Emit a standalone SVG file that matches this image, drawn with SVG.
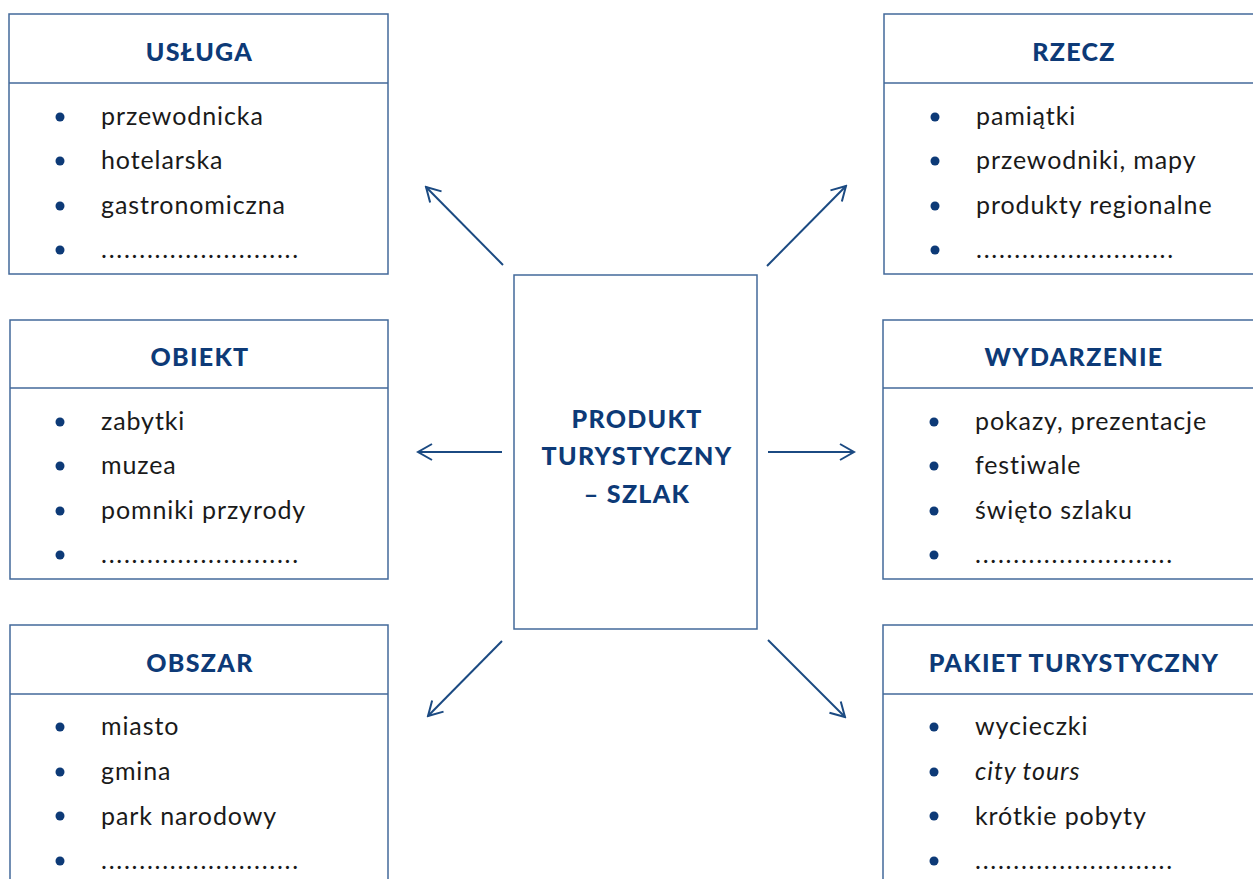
<svg xmlns="http://www.w3.org/2000/svg" width="1253" height="879" viewBox="0 0 1253 879">
<style>
.box{fill:#fff;stroke:#43699a;stroke-width:1.5}
.div{stroke:#43699a;stroke-width:1.5}
.hd{font-family:Lato,"Liberation Sans",sans-serif;font-weight:900;font-size:25px;letter-spacing:1.3px;fill:#0d3a77;text-anchor:middle}
.it{font-family:Lato,"Liberation Sans",sans-serif;font-size:25px;letter-spacing:0.9px;fill:#1a1a1a}
.dt{font-family:Lato,"Liberation Sans",sans-serif;font-size:25px;letter-spacing:1.75px;fill:#1a1a1a}
.bu{fill:#0d3a77}
.ar{stroke:#1b4a82;stroke-width:2;fill:none;marker-end:url(#ah)}
</style>
<defs>
<marker id="ah" viewBox="0 0 20 20" refX="18" refY="10" markerWidth="20" markerHeight="20" markerUnits="userSpaceOnUse" orient="auto">
<path d="M4 2 L18 10 L4 18" fill="none" stroke="#1b4a82" stroke-width="2"/>
</marker>
</defs>
<rect width="1253" height="879" fill="#fff"/>
<g id="connectors">
<line class="ar" x1="503" y1="265" x2="426" y2="187"/>
<line class="ar" x1="767" y1="266" x2="846" y2="186"/>
<line class="ar" x1="502" y1="452" x2="418" y2="452"/>
<line class="ar" x1="768" y1="452" x2="854" y2="452"/>
<line class="ar" x1="502" y1="641" x2="428" y2="716"/>
<line class="ar" x1="768" y1="640" x2="845" y2="717"/>
</g>
<g id="center">
<rect class="box" x="514" y="275" width="243" height="354"/>
<text class="hd" x="637" y="428">PRODUKT</text>
<text class="hd" x="637" y="465">TURYSTYCZNY</text>
<text class="hd" x="637" y="503">– SZLAK</text>
</g>
<g id="usluga">
<rect class="box" x="9" y="14" width="379" height="260"/>
<line class="div" x1="9" y1="83" x2="388" y2="83"/>
<text class="hd" x="199.5" y="61">USŁUGA</text>
<circle class="bu" cx="60" cy="117" r="4.5"/><text class="it" x="101" y="125">przewodnicka</text>
<circle class="bu" cx="60" cy="161" r="4.5"/><text class="it" x="101" y="169">hotelarska</text>
<circle class="bu" cx="60" cy="206" r="4.5"/><text class="it" x="101" y="214">gastronomiczna</text>
<circle class="bu" cx="60" cy="250" r="4.5"/><text class="dt" x="101" y="258">..........................</text>
</g>
<g id="obiekt">
<rect class="box" x="10" y="320" width="378" height="259"/>
<line class="div" x1="10" y1="388" x2="388" y2="388"/>
<text class="hd" x="200" y="366">OBIEKT</text>
<circle class="bu" cx="60" cy="422" r="4.5"/><text class="it" x="101" y="430">zabytki</text>
<circle class="bu" cx="60" cy="466" r="4.5"/><text class="it" x="101" y="474">muzea</text>
<circle class="bu" cx="60" cy="511" r="4.5"/><text class="it" x="101" y="519">pomniki przyrody</text>
<circle class="bu" cx="60" cy="555" r="4.5"/><text class="dt" x="101" y="563">..........................</text>
</g>
<g id="obszar">
<rect class="box" x="10" y="625" width="378" height="262"/>
<line class="div" x1="10" y1="694" x2="388" y2="694"/>
<text class="hd" x="200" y="672">OBSZAR</text>
<circle class="bu" cx="60" cy="727" r="4.5"/><text class="it" x="101" y="735">miasto</text>
<circle class="bu" cx="60" cy="772" r="4.5"/><text class="it" x="101" y="780">gmina</text>
<circle class="bu" cx="60" cy="816" r="4.5"/><text class="it" x="101" y="825">park narodowy</text>
<circle class="bu" cx="60" cy="861" r="4.5"/><text class="dt" x="101" y="869">..........................</text>
</g>
<g id="rzecz">
<rect class="box" x="884" y="14" width="380" height="260"/>
<line class="div" x1="884" y1="83" x2="1253" y2="83"/>
<text class="hd" x="1074" y="61">RZECZ</text>
<circle class="bu" cx="935" cy="117" r="4.5"/><text class="it" x="976" y="125">pamiątki</text>
<circle class="bu" cx="935" cy="161" r="4.5"/><text class="it" x="976" y="169">przewodniki, mapy</text>
<circle class="bu" cx="935" cy="206" r="4.5"/><text class="it" x="976" y="214">produkty regionalne</text>
<circle class="bu" cx="935" cy="250" r="4.5"/><text class="dt" x="976" y="258">..........................</text>
</g>
<g id="wydarzenie">
<rect class="box" x="883" y="320" width="381" height="259"/>
<line class="div" x1="883" y1="388" x2="1253" y2="388"/>
<text class="hd" x="1074" y="366">WYDARZENIE</text>
<circle class="bu" cx="934" cy="422" r="4.5"/><text class="it" x="975" y="430">pokazy, prezentacje</text>
<circle class="bu" cx="934" cy="466" r="4.5"/><text class="it" x="975" y="474">festiwale</text>
<circle class="bu" cx="934" cy="511" r="4.5"/><text class="it" x="975" y="519">święto szlaku</text>
<circle class="bu" cx="934" cy="555" r="4.5"/><text class="dt" x="975" y="563">..........................</text>
</g>
<g id="pakiet">
<rect class="box" x="883" y="625" width="381" height="262"/>
<line class="div" x1="883" y1="694" x2="1253" y2="694"/>
<text class="hd" x="1074" y="672">PAKIET TURYSTYCZNY</text>
<circle class="bu" cx="934" cy="727" r="4.5"/><text class="it" x="975" y="735">wycieczki</text>
<circle class="bu" cx="934" cy="772" r="4.5"/><text class="it" x="975" y="780" font-style="italic">city tours</text>
<circle class="bu" cx="934" cy="816" r="4.5"/><text class="it" x="975" y="825">krótkie pobyty</text>
<circle class="bu" cx="934" cy="861" r="4.5"/><text class="dt" x="975" y="869">..........................</text>
</g>
</svg>
